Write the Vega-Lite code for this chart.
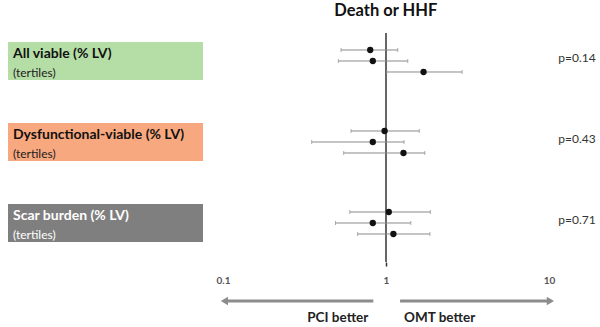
{
  "$schema": "https://vega.github.io/schema/vega-lite/v6.json",
  "padding": {"left": 8, "top": 2, "right": 0, "bottom": 0},
  "background": "white",
  "config": {"font": "Lato", "view": {"stroke": null}},
  "title": {"text": "Death or HHF", "fontSize": 16.5, "fontWeight": "bold", "color": "#111111", "anchor": "middle", "dx": 84, "offset": 13},
  "datasets": {
    "groups": [
      {"group": "All viable (% LV)", "subtitle": "(tertiles)", "p": "p=0.14"},
      {"group": "Dysfunctional-viable (% LV)", "subtitle": "(tertiles)", "p": "p=0.43"},
      {"group": "Scar burden (% LV)", "subtitle": "(tertiles)", "p": "p=0.71"}
    ],
    "estimates": [
      {"group": "All viable (% LV)", "tertile": "T1", "hr": 0.80, "lo": 0.53, "hi": 1.18},
      {"group": "All viable (% LV)", "tertile": "T2", "hr": 0.83, "lo": 0.51, "hi": 1.36},
      {"group": "All viable (% LV)", "tertile": "T3", "hr": 1.70, "lo": 1.01, "hi": 2.93},
      {"group": "Dysfunctional-viable (% LV)", "tertile": "T1", "hr": 0.98, "lo": 0.61, "hi": 1.60},
      {"group": "Dysfunctional-viable (% LV)", "tertile": "T2", "hr": 0.83, "lo": 0.35, "hi": 1.29},
      {"group": "Dysfunctional-viable (% LV)", "tertile": "T3", "hr": 1.28, "lo": 0.55, "hi": 1.73},
      {"group": "Scar burden (% LV)", "tertile": "T1", "hr": 1.04, "lo": 0.60, "hi": 1.87},
      {"group": "Scar burden (% LV)", "tertile": "T2", "hr": 0.83, "lo": 0.49, "hi": 1.42},
      {"group": "Scar burden (% LV)", "tertile": "T3", "hr": 1.11, "lo": 0.67, "hi": 1.86}
    ],
    "arrows": [
      {"label": "PCI better", "direction": "left", "start": 0.836, "end": 0.102},
      {"label": "OMT better", "direction": "right", "start": 1.22, "end": 10.2}
    ]
  },
  "bounds": "flush",
  "spacing": 20,
  "hconcat": [
    {
      "width": 195,
      "height": 229,
      "data": {"name": "groups"},
      "encoding": {
        "y": {"field": "group", "type": "nominal", "axis": null,
          "scale": {"type": "band", "domain": ["All viable (% LV)", "Dysfunctional-viable (% LV)", "Scar burden (% LV)"], "paddingInner": 0.531, "paddingOuter": 0.179, "align": 0.31}}
      },
      "layer": [
        {
          "mark": {"type": "rect"},
          "encoding": {
            "x": {"datum": 0, "type": "quantitative", "scale": {"domain": [0, 1]}, "axis": null},
            "x2": {"datum": 1},
            "fill": {"field": "group", "type": "nominal", "legend": null,
              "scale": {"domain": ["All viable (% LV)", "Dysfunctional-viable (% LV)", "Scar burden (% LV)"], "range": ["#b5dea6", "#f8a87e", "#7f7f7f"]}}
          }
        },
        {
          "mark": {"type": "text", "align": "left", "baseline": "middle", "dx": 5, "dy": -6.5, "fontSize": 14, "fontWeight": "bold"},
          "encoding": {
            "x": {"datum": 0, "type": "quantitative", "axis": null},
            "text": {"field": "group"},
            "color": {"condition": {"test": "datum.group === 'Scar burden (% LV)'", "value": "#ffffff"}, "value": "#111111"}
          }
        },
        {
          "mark": {"type": "text", "align": "left", "baseline": "middle", "dx": 5, "dy": 12, "fontSize": 12},
          "encoding": {
            "x": {"datum": 0, "type": "quantitative", "axis": null},
            "text": {"field": "subtitle"},
            "color": {"condition": {"test": "datum.group === 'Scar burden (% LV)'", "value": "#ffffff"}, "value": "#222222"}
          }
        }
      ]
    },
    {
      "bounds": "flush",
      "spacing": 38,
      "vconcat": [
        {
          "width": 326,
          "height": 229,
          "data": {"name": "estimates"},
          "encoding": {
            "y": {"field": "group", "type": "nominal", "axis": null,
              "scale": {"type": "band", "domain": ["All viable (% LV)", "Dysfunctional-viable (% LV)", "Scar burden (% LV)"], "paddingInner": 0.531, "paddingOuter": 0.179, "align": 0.31}}
          },
          "layer": [
            {
              "data": {"values": [{"ref": 1}]},
              "mark": {"type": "rule", "color": "#333333", "strokeWidth": 1.5},
              "encoding": {
                "y": null,
                "x": {"field": "ref", "type": "quantitative", "title": null,
                  "scale": {"type": "log", "domain": [0.1, 10], "nice": false},
                  "axis": {"values": [0.1, 1, 10], "format": "~g", "labelFontSize": 10, "labelFontWeight": "bold", "labelColor": "#555555",
                    "labelFlush": false, "labelOverlap": false, "domain": false, "grid": false, "ticks": true, "tickSize": 4, "tickWidth": 1.5,
                    "tickColor": {"condition": {"test": "datum.value == 1", "value": "#333333"}, "value": "transparent"},
                    "labelPadding": 9, "title": null}}
              }
            },
            {
              "mark": {"type": "rule", "color": "#8a8a8a", "strokeWidth": 1},
              "encoding": {
                "x": {"field": "lo", "type": "quantitative", "title": null},
                "x2": {"field": "hi"},
                "yOffset": {"field": "tertile", "type": "nominal", "scale": {"type": "band", "paddingInner": 0, "paddingOuter": 0.227}}
              }
            },
            {
              "mark": {"type": "tick", "color": "#8a8a8a", "size": 4, "thickness": 1},
              "encoding": {
                "x": {"field": "lo", "type": "quantitative", "title": null},
                "yOffset": {"field": "tertile", "type": "nominal"}
              }
            },
            {
              "mark": {"type": "tick", "color": "#8a8a8a", "size": 4, "thickness": 1},
              "encoding": {
                "x": {"field": "hi", "type": "quantitative", "title": null},
                "yOffset": {"field": "tertile", "type": "nominal"}
              }
            },
            {
              "mark": {"type": "point", "filled": true, "color": "#111111", "size": 40, "opacity": 1},
              "encoding": {
                "x": {"field": "hr", "type": "quantitative", "title": null},
                "yOffset": {"field": "tertile", "type": "nominal"}
              }
            },
            {
              "data": {"name": "groups"},
              "mark": {"type": "text", "align": "left", "baseline": "middle", "fontSize": 12, "color": "#333333", "dy": -3},
              "encoding": {
                "x": {"datum": 11.4, "type": "quantitative", "title": null},
                "text": {"field": "p"}
              }
            }
          ]
        },
        {
          "width": 326,
          "height": 2,
          "data": {"name": "arrows"},
          "layer": [
            {
              "mark": {"type": "rule", "color": "#8c8c8c", "strokeWidth": 3},
              "encoding": {
                "x": {"field": "start", "type": "quantitative", "axis": null, "scale": {"type": "log", "domain": [0.1, 10], "nice": false}},
                "x2": {"field": "end"}
              }
            },
            {
              "mark": {"type": "point", "filled": true, "color": "#8c8c8c", "size": 70, "opacity": 1},
              "encoding": {
                "x": {"field": "end", "type": "quantitative", "axis": null},
                "shape": {"field": "direction", "type": "nominal", "legend": null, "scale": {"domain": ["left", "right"], "range": ["triangle-left", "triangle-right"]}}
              }
            },
            {
              "transform": [{"filter": "datum.direction === 'left'"}],
              "mark": {"type": "text", "align": "right", "baseline": "middle", "dx": -5, "dy": 16.5, "fontSize": 13.5, "fontWeight": "bold", "color": "#222222"},
              "encoding": {
                "x": {"field": "start", "type": "quantitative", "axis": null},
                "text": {"field": "label"}
              }
            },
            {
              "transform": [{"filter": "datum.direction === 'right'"}],
              "mark": {"type": "text", "align": "left", "baseline": "middle", "dx": 4, "dy": 16.5, "fontSize": 13.5, "fontWeight": "bold", "color": "#222222"},
              "encoding": {
                "x": {"field": "start", "type": "quantitative", "axis": null},
                "text": {"field": "label"}
              }
            }
          ]
        }
      ]
    }
  ]
}
